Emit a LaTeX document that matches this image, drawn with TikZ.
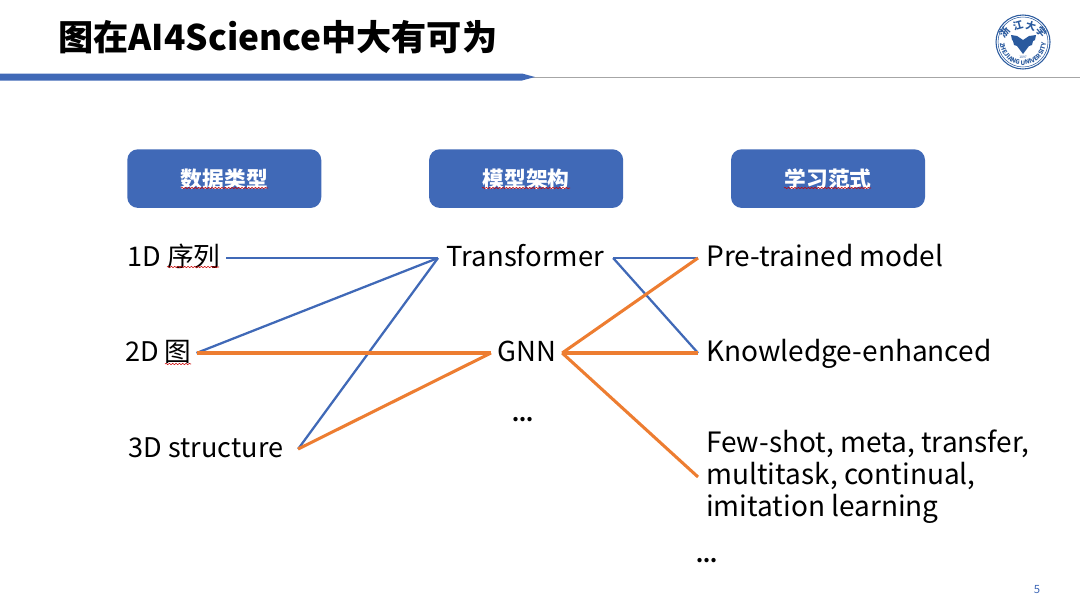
\documentclass[tikz,border=0pt]{standalone}
\usepackage{fontspec}
\setmainfont{Noto Sans CJK SC}
\usepackage{xcolor}
\usetikzlibrary{positioning, decorations.pathmorphing, decorations.text}
\definecolor{headblue}{HTML}{4069B7}
\definecolor{linkorange}{HTML}{ED7D31}
\definecolor{logoblue}{HTML}{2A5A9E}

\begin{document}
\begin{tikzpicture}[
    x=0.75pt, y=-0.75pt,
    node distance=80.5pt,
    head/.style={rectangle, fill=headblue, rounded corners=8pt, minimum width=145.5pt, minimum height=44pt, align=center, text=white, inner sep=0pt, text height=14pt, text depth=1pt, font=\fontsize{16.3}{18}\selectfont\bfseries},
    item/.style={rectangle, anchor=west, inner xsep=6pt, inner ysep=0pt, text height=17pt, text depth=4pt, font=\fontsize{21}{24}\selectfont},
    leftitem/.style={item, font=\fontsize{20.3}{24}\selectfont},
    miditem/.style={item, font=\fontsize{20.6}{24}\selectfont},
    dotsnode/.style={inner sep=0pt, font=\fontsize{15}{24}\selectfont\bfseries},
    seal/.style={text=logoblue, inner sep=0pt, font=\fontsize{7.5}{8}\selectfont\bfseries},
    blink/.style={draw=headblue, line width=1.7pt, line join=round},
    olink/.style={draw=linkorange, line width=2.3pt, line join=round},
    wavy/.style={draw=red!80!black, line width=0.4pt, decorate, decoration={snake, amplitude=0.5pt, segment length=2.5pt}}
]
\useasboundingbox (0,0) rectangle (1080,607);

% Title and rule
\node[anchor=west, inner sep=0pt, font=\fontsize{26.4}{30}\selectfont\bfseries] (title) at (58,37) {图在AI4Science中大有可为};
\draw[gray!70, line width=0.6pt] (530,77) -- (1080,77);
\fill[headblue] (0,73.5) -- (522,73.5) -- (535,77) -- (522,80.5) -- (0,80.5) -- cycle;

% Logo
\draw[logoblue, line width=0.8pt] (1023,42) circle (27);
\draw[logoblue, line width=0.4pt] (1023,42) circle (25);
\fill[logoblue] (1011,35) -- (1017,36) -- (1023,40) -- (1029,36) -- (1036,35) -- (1035,40) -- (1033,41) -- (1032,45) -- (1029,46) -- (1023,54) -- (1017,46) -- (1014,45) -- (1013,41) -- (1012,40) -- cycle;
\path[decorate, decoration={text along path, text align=center, text={|\fontsize{4.6}{5}\selectfont\bfseries\color{logoblue}|ZHEJIANG UNIVERSITY}}] (1000,42) arc[start angle=180, end angle=0, radius=23];
\node[seal, rotate=50] (logo1) at (1005,32) {浙};
\node[seal, rotate=15] (logo2) at (1018,26) {江};
\node[seal, rotate=-15] (logo3) at (1031,26) {大};
\node[seal, rotate=-50] (logo4) at (1042,32) {学};
\node[seal, font=\fontsize{2.5}{3}\selectfont] (year) at (1023,57) {1897};

% Column heads
\node[head, anchor=north west] (data) at (127,149) {数据类型};
\node[head, right=of data] (model) {模型架构};
\node[head, right=of model] (paradigm) {学习范式};

% Left column
\node[leftitem, inner xsep=4pt] (seq) at (121.8,258) {1D {\fontsize{20}{24}\selectfont 序列}};
\node[leftitem, inner xsep=3.5pt] (graph) at (120.3,353) {2D {\fontsize{20}{24}\selectfont 图}};
\node[leftitem, inner xsep=11pt] (struct) at (114,449) {3D structure};

% Middle column
\node[miditem, inner xsep=6.5pt] (trans) at (438,258) {Transformer};
\node[miditem, inner xsep=4.5pt] (gnn) at (491,353) {GNN};
\node[dotsnode] (dots1) at (523,420) {...};

% Right column
\node[item] (pre) at (698,258) {Pre-trained model};
\node[item] (know) at (698,353) {Knowledge-enhanced};
\node[item, text height=, text depth=, align=left] (few) at (698,477) {Few-shot, meta, transfer,\\multitask, continual,\\imitation learning};
\node[dotsnode] (dots2) at (707,561) {...};

% Spell check marks
\draw[wavy] (181,188) -- (268,188);
\draw[wavy] (482,188) -- (570,188);
\draw[wavy] (784,188) -- (871,188);
\draw[wavy] (167,267) -- (219,267);
\draw[wavy] (165,364) -- (191,364);

% Connections
\draw[blink] (seq.east) -- (trans.west);
\draw[blink] (graph.east) -- (trans.west);
\draw[blink] (struct.east) -- (trans.west);
\draw[blink] (trans.east) -- (pre.west);
\draw[blink] (trans.east) -- (know.west);
\draw[olink] (graph.east) -- (gnn.west);
\draw[olink] (struct.east) -- (gnn.west);
\draw[olink] (gnn.east) -- (pre.west);
\draw[olink] (gnn.east) -- (know.west);
\draw[olink] (gnn.east) -- (few.west);

% Page number
\node[text=headblue, inner sep=0pt, font=\fontsize{8.5}{10}\selectfont] (page) at (1037,590) {5};
\end{tikzpicture}
\end{document}
